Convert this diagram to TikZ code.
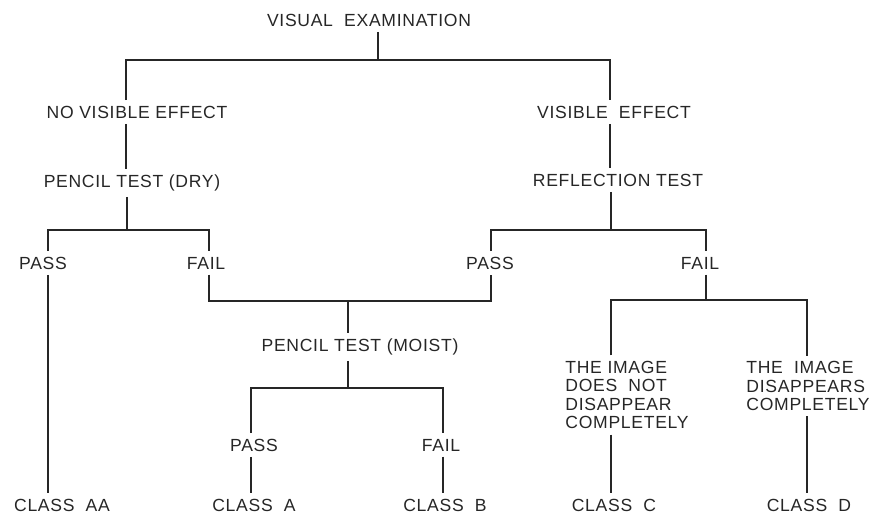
\documentclass[tikz,border=0pt]{standalone}
\usepackage{fontspec}
\newfontfamily\lblfont[LetterSpace=4]{Liberation Sans}

\begin{document}
\begin{tikzpicture}[x=0.02cm,y=-0.02cm,
  lbl/.style={font=\lblfont\fontsize{10}{10.5}\selectfont,inner sep=3pt,text=black!85},
  link/.style={line width=0.9pt,black!85}]
  \useasboundingbox (0,0) rectangle (870,513);
  % text
  \node[lbl] (visexam) at (369,20) {VISUAL\ \ EXAMINATION};
  \node[lbl] (noeff) at (137,112) {NO VISIBLE EFFECT};
  \node[lbl] (ptdry) at (132,183) {PENCIL TEST (DRY)};
  \node[lbl] (viseff) at (614,112) {VISIBLE\ \ EFFECT};
  \node[lbl] (refl) at (618,180) {REFLECTION TEST};
  \node[lbl] (passA) at (43,263) {PASS};
  \node[lbl] (failA) at (206,263) {FAIL};
  \node[lbl] (passB) at (490,263) {PASS};
  \node[lbl] (failB) at (700,263) {FAIL};
  \node[lbl] (ptmoist) at (360,347) {PENCIL TEST (MOIST)};
  \node[lbl] (passC) at (254,445) {PASS};
  \node[lbl] (failC) at (441,445) {FAIL};
  \node[lbl,align=left] (stays) at (627,395)
    {THE IMAGE\\DOES\ \ NOT\\DISAPPEAR\\COMPLETELY};
  \node[lbl,align=left] (gone) at (808,386)
    {THE\ \ IMAGE\\DISAPPEARS\\COMPLETELY};
  \node[lbl] (clAA) at (62,505) {CLASS\ \ AA};
  \node[lbl] (clA) at (254,505) {CLASS\ \ A};
  \node[lbl] (clB) at (445,505) {CLASS\ \ B};
  \node[lbl] (clC) at (614,505) {CLASS\ \ C};
  \node[lbl] (clD) at (809,505) {CLASS\ \ D};
  % junctions
  \coordinate (jtop) at (378,60);
  \coordinate (jtopL) at (126,60);
  \coordinate (jtopR) at (610,60);
  \coordinate (jdry) at (127,230);
  \coordinate (jdryL) at (48,230);
  \coordinate (jdryR) at (209,230);
  \coordinate (jrefl) at (611,230);
  \coordinate (jreflL) at (491,230);
  \coordinate (jreflR) at (706,230);
  \coordinate (jmid) at (348,301);
  \coordinate (jfail) at (706,300);
  \coordinate (jfailL) at (611,300);
  \coordinate (jfailR) at (807,300);
  \coordinate (jmoist) at (348,388);
  \coordinate (jmoistL) at (251,388);
  \coordinate (jmoistR) at (443,388);
  % connectors
  \draw[link] (visexam.south -| jtop) -- (jtop);
  \draw[link] (noeff.north -| jtopL) -- (jtopL) -- (jtopR) -- (viseff.north -| jtopR);
  \draw[link] (noeff.south -| jtopL) -- (ptdry.north -| jtopL);
  \draw[link] (viseff.south -| jtopR) -- (refl.north -| jtopR);
  \draw[link] (ptdry.south -| jdry) -- (jdry);
  \draw[link] (passA.north -| jdryL) |- (jdry) -| (failA.north -| jdryR);
  \draw[link] (passA.south -| jdryL) -- (clAA.north -| jdryL);
  \draw[link] (refl.south -| jrefl) -- (jrefl);
  \draw[link] (passB.north -| jreflL) |- (jrefl) -| (failB.north -| jreflR);
  \draw[link] (failA.south -| jdryR) |- (jmid) -| (passB.south -| jreflL);
  \draw[link] (jmid) -- (ptmoist.north -| jmid);
  \draw[link] (ptmoist.south -| jmoist) -- (jmoist);
  \draw[link] (passC.north -| jmoistL) |- (jmoist) -| (failC.north -| jmoistR);
  \draw[link] (passC.south -| jmoistL) -- (clA.north -| jmoistL);
  \draw[link] (failC.south -| jmoistR) -- (clB.north -| jmoistR);
  \draw[link] (failB.south -| jfail) -- (jfail);
  \draw[link] (stays.north -| jfailL) |- (jfail) -| (gone.north -| jfailR);
  \draw[link] (stays.south -| jfailL) -- (clC.north -| jfailL);
  \draw[link] (gone.south -| jfailR) -- (clD.north -| jfailR);
\end{tikzpicture}
\end{document}
